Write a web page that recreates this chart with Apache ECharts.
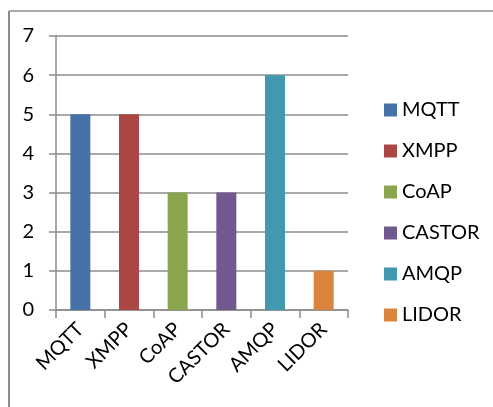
<!DOCTYPE html>
<html>
<head>
<meta charset="utf-8">
<style>
  html, body { margin: 0; padding: 0; background: #fff; }
  #chart { width: 493px; height: 407px; }
</style>
<script src="https://cdn.jsdelivr.net/npm/echarts@6/dist/echarts.min.js"></script>
</head>
<body>
<div id="chart"></div>
<script>
// Protocol comparison: one bar per protocol, each with its own colour and legend entry
const categories = ['MQTT', 'XMPP', 'CoAP', 'CASTOR', 'AMQP', 'LIDOR'];
const values = [5, 5, 3, 3, 6, 1];
const colors = ['#4572A7', '#AA4643', '#89A54E', '#71588F', '#4198AF', '#DB843D'];
const yTicks = [0, 1, 2, 3, 4, 5, 6, 7];

const FONT = 'Lato';
const GRAY = '#8c8c8c';

const chart = echarts.init(document.getElementById('chart'));

// each protocol is its own series so the legend lists it; bars overlap at the category centre
const series = categories.map((name, i) => ({
  name: name,
  type: 'bar',
  barWidth: 20,
  barGap: '-100%',
  itemStyle: { color: colors[i] },
  data: categories.map((c, j) => (j === i ? values[i] : '-'))
}));

chart.setOption({
  animation: false,
  backgroundColor: '#fff',
  textStyle: { fontFamily: FONT },
  graphic: [
    // frame of the chart area (top and left edges)
    { type: 'line', shape: { x1: 9, y1: 11, x2: 493, y2: 11 }, style: { stroke: GRAY, lineWidth: 1.5 } },
    { type: 'line', shape: { x1: 9, y1: 11, x2: 9, y2: 407 }, style: { stroke: GRAY, lineWidth: 2 } }
  ],
  grid: { left: 56, right: 145, top: 36, bottom: 97, containLabel: false },
  legend: {
    orient: 'vertical',
    left: 379,
    top: 95,
    itemWidth: 13,
    itemHeight: 13,
    itemGap: 21,
    icon: 'rect',
    textStyle: { fontFamily: FONT, fontSize: 20, color: '#000' },
    data: categories
  },
  xAxis: {
    type: 'category',
    data: categories,
    boundaryGap: true,
    axisLine: { lineStyle: { color: GRAY, width: 1.5 } },
    axisTick: { show: true, length: 8, alignWithLabel: false, lineStyle: { color: GRAY, width: 1.5 } },
    axisLabel: { rotate: 45, margin: 16, fontFamily: FONT, fontSize: 20, color: '#000' }
  },
  yAxis: {
    type: 'value',
    min: yTicks[0],
    max: yTicks[yTicks.length - 1],
    interval: 1,
    axisLine: { show: true, lineStyle: { color: GRAY, width: 1.5 } },
    axisTick: { show: true, length: 7, lineStyle: { color: GRAY, width: 1.5 } },
    splitLine: { show: true, lineStyle: { color: GRAY, width: 1.5 } },
    axisLabel: { margin: 22, fontFamily: FONT, fontSize: 20, color: '#000' }
  },
  series: series
});
</script>
</body>
</html>
